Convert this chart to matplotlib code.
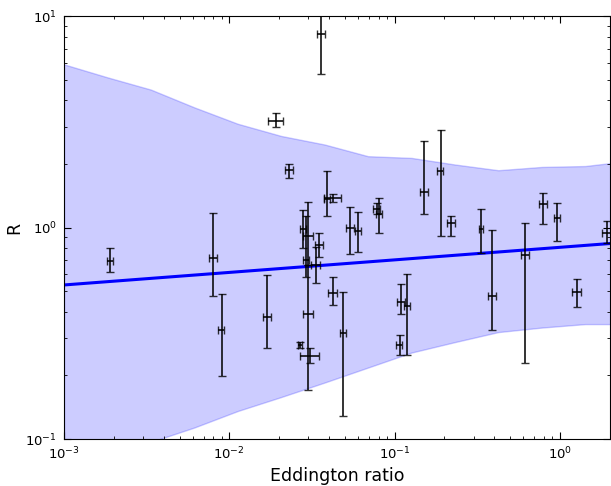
import numpy as np
import matplotlib
matplotlib.use('Agg')
import matplotlib.pyplot as plt


# Datos de los puntos (Eddington ratio vs R)
edd = [0.00190, 0.00798, 0.00897, 0.0170, 0.01907, 0.02296, 0.02678, 0.0280,
       0.0290, 0.0301, 0.0300, 0.0308, 0.0333, 0.0350, 0.0358, 0.0392,
       0.0423, 0.0421, 0.0490, 0.0540, 0.0600, 0.0777, 0.0801, 0.1094,
       0.107, 0.1189, 0.1502, 0.1894, 0.2199, 0.331, 0.390, 0.618,
       0.792, 0.954, 1.261, 1.918]
edd_err = [0.00008, 0.00045, 0.00038, 0.00095, 0.0020, 0.0013, 0.00075, 0.0012,
           0.0012, 0.0021, 0.0021, 0.004, 0.0019, 0.0020, 0.0020, 0.0016,
           0.0049, 0.0024, 0.0021, 0.0030, 0.0025, 0.0033, 0.0034, 0.0061,
           0.0045, 0.0050, 0.0084, 0.0080, 0.0123, 0.0093, 0.022, 0.035,
           0.044, 0.040, 0.071, 0.134]
R = [0.696, 0.714, 0.327, 0.376, 3.19, 1.866, 0.278, 0.982,
     0.705, 0.910, 0.388, 0.248, 0.664, 0.830, 8.19, 1.361,
     1.377, 0.490, 0.318, 0.996, 0.961, 1.230, 1.153, 0.445,
     0.278, 0.426, 1.474, 1.852, 1.045, 0.979, 0.475, 0.740,
     1.289, 1.104, 0.497, 0.943]
R_lo = [0.617, 0.475, 0.199, 0.270, 2.99, 1.717, 0.269, 0.796,
        0.585, 0.664, 0.170, 0.229, 0.549, 0.728, 5.34, 1.135,
        1.318, 0.430, 0.129, 0.746, 0.767, 1.156, 0.937, 0.388,
        0.249, 0.249, 1.153, 0.910, 0.910, 0.754, 0.327, 0.229,
        1.034, 0.862, 0.419, 0.846]
R_hi = [0.796, 1.169, 0.484, 0.596, 3.48, 2.007, 0.287, 1.208,
        1.135, 1.314, 0.664, 0.268, 0.808, 0.940, 11.0, 1.852,
        1.438, 0.585, 0.498, 1.252, 1.178, 1.303, 1.381, 0.538,
        0.310, 0.600, 2.559, 2.906, 1.131, 1.230, 0.972, 1.045,
        1.464, 1.299, 0.574, 1.075]

# Ajuste y banda de confianza
fit_x = [0.001, 2.0]
fit_R = [0.535, 0.84]

band_x = [0.001, 0.001832, 0.003353, 0.00614, 0.01124, 0.02059, 0.0377,
          0.06903, 0.1264, 0.2314, 0.4236, 0.7757, 1.420, 2.601]
band_hi = [5.91, 5.13, 4.49, 3.70, 3.095, 2.710, 2.469,
           2.174, 2.134, 1.986, 1.866, 1.934, 1.953, 2.064]
band_lo = [0.0714, 0.0831, 0.0968, 0.1133, 0.1356, 0.1579, 0.1849,
           0.2177, 0.2563, 0.2872, 0.3203, 0.3364, 0.3494, 0.3494]


def main():
    fig = plt.figure(figsize=(6.11, 4.86), dpi=100)
    ax = fig.add_axes([0.1047, 0.0967, 0.8933, 0.8703])

    ax.fill_between(band_x, band_lo, band_hi, color='b', alpha=0.2, linewidth=1)
    ax.plot(fit_x, fit_R, 'b-', linewidth=2.2)

    r = np.array(R)
    yerr = [r - np.array(R_lo), np.array(R_hi) - r]
    ax.errorbar(edd, R, xerr=edd_err, yerr=yerr, fmt='none', ecolor='k',
                alpha=0.8, elinewidth=1.4, capsize=3, capthick=1)

    ax.set_xscale('log')
    ax.set_yscale('log')
    ax.set_xlim(1e-3, 2)
    ax.set_ylim(0.1, 10)

    ax.set_xlabel('Eddington ratio', fontsize=12.5, labelpad=3)
    ax.set_ylabel('R', fontsize=12.5)
    ax.yaxis.set_label_coords(-0.075, 0.5)
    ax.tick_params(which='both', direction='in', top=True, right=True,
                   labelsize=9.5)
    ax.tick_params(which='major', length=5, pad=5)
    ax.tick_params(which='minor', length=2.5)

    fig.savefig('out.png', dpi=100)


if __name__ == "__main__":
    main()
